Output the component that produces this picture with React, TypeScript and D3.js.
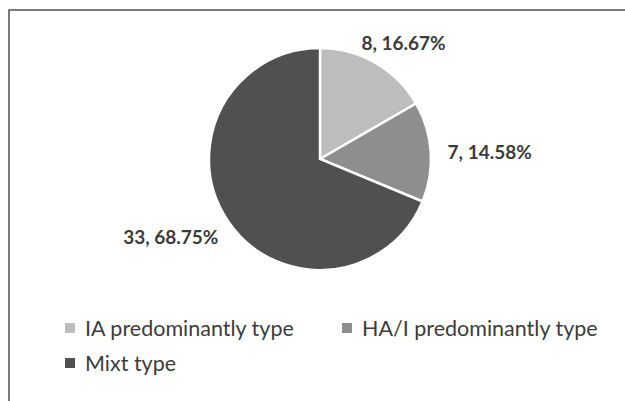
import React from "react";
import * as d3 from "d3";

const categories = ["IA predominantly type", "HA/I predominantly type", "Mixt type"];
const counts = [8, 7, 33];
const percents = ["16.67%", "14.58%", "68.75%"];
const colors = ["#bdbdbd", "#8e8e8e", "#505050"];

const W = 625;
const H = 401;
const CX = 320;
const CY = 159;
const R = 111;
const LABEL_R = 141;
const labelNudges: [number, number][] = [
  [13, 6],
  [29, 2],
  [-32, -1],
];
const FONT = "Lato, 'Open Sans', sans-serif";
const TEXT = "#3c3c3c";

export default function App() {
  const pie = d3.pie<number>().sort(null).value((d) => d);
  const arcs = pie(counts);
  const arc = d3.arc<d3.PieArcDatum<number>>().innerRadius(0).outerRadius(R);
  const labelArc = d3
    .arc<d3.PieArcDatum<number>>()
    .innerRadius(LABEL_R)
    .outerRadius(LABEL_R);

  const legendItems = [
    { i: 0, x: 65, y: 323 },
    { i: 1, x: 342, y: 323 },
    { i: 2, x: 65, y: 358 },
  ];

  return (
    <svg
      width={W}
      height={H}
      style={{ position: "absolute", left: 0, top: 0, background: "#fff" }}
    >
      <rect x={0} y={0} width={W} height={H} fill="#fff" />
      <rect
        x={9}
        y={10}
        width={W + 50}
        height={H + 50}
        fill="none"
        stroke="#5a5a5a"
        strokeWidth={1.6}
      />
      <g transform={`translate(${CX},${CY})`}>
        {arcs.map((a, i) => (
          <path
            key={i}
            d={arc(a) || ""}
            fill={colors[i]}
            stroke="#fff"
            strokeWidth={2.5}
            strokeLinejoin="miter"
          />
        ))}
        {arcs.map((a, i) => {
          const [lx, ly] = labelArc.centroid(a);
          return (
            <text
              key={"l" + i}
              x={lx + labelNudges[i][0]}
              y={ly + labelNudges[i][1]}
              textAnchor="middle"
              dominantBaseline="central"
              fontFamily={FONT}
              fontWeight="bold"
              fontSize={19}
              fill={TEXT}
            >
              {`${counts[i]}, ${percents[i]}`}
            </text>
          );
        })}
      </g>
      {legendItems.map(({ i, x, y }) => (
        <g key={"lg" + i}>
          <rect x={x} y={y} width={10} height={10} fill={colors[i]} />
          <text
            x={x + 20}
            y={y + 5}
            dominantBaseline="central"
            fontFamily={FONT}
            fontSize={21.5}
            fill={TEXT}
          >
            {categories[i]}
          </text>
        </g>
      ))}
    </svg>
  );
}
